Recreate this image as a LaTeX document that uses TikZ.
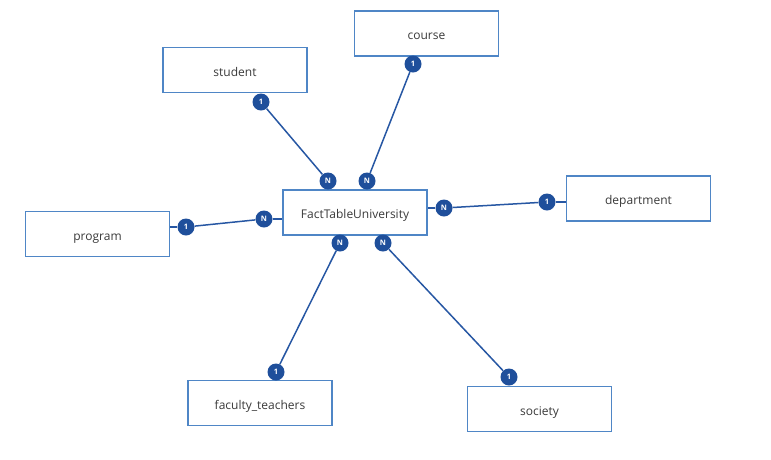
\documentclass[tikz,border=0pt]{standalone}
\usepackage{fontspec}
\setmainfont{Open Sans}
\definecolor{boxblue}{HTML}{4F86C6}
\definecolor{linkblue}{HTML}{2757A3}
\definecolor{badgeblue}{HTML}{1F4F9B}
\definecolor{txt}{HTML}{3A3A3A}
\tikzset{
  ent/.style={draw=boxblue, line width=1.5pt, fill=white, minimum width=144pt, minimum height=45pt, inner sep=0pt, text=txt, text height=12pt, text depth=0pt, font=\fontsize{12}{14}\selectfont},
  badge/.style={circle, fill=badgeblue, draw=none, minimum size=17pt, inner sep=0pt, text=white, font=\fontsize{7.5}{8}\selectfont\bfseries},
  link/.style={draw=linkblue, line width=1.5pt}
}
\begin{document}
\begin{tikzpicture}[x=1pt,y=-1pt]
\useasboundingbox (0,0) rectangle (771,459);
% entities
\node[ent] (fact) at (355,212.5) {FactTableUniversity};
\node[ent] (student) at (235,70) {student};
\node[ent] (course) at (426.5,33.5) {course};
\node[ent] (program) at (97.5,234) {program};
\node[ent] (department) at (638.5,198.5) {department};
\node[ent] (faculty) at (260,403) {faculty\_teachers};
\node[ent] (society) at (539.5,409) {society};
% badges
\node[badge] (bS1) at (261,102) {1};
\node[badge] (bSN) at (328,181) {N};
\node[badge] (bC1) at (413,64) {1};
\node[badge] (bCN) at (367,181) {N};
\node[badge] (bP1) at (186,227) {1};
\node[badge] (bPN) at (264,219) {N};
\node[badge] (bD1) at (547,202) {1};
\node[badge] (bDN) at (444,208) {N};
\node[badge] (bF1) at (276,372) {1};
\node[badge] (bFN) at (340,243) {N};
\node[badge] (bY1) at (509,377) {1};
\node[badge] (bYN) at (383,243) {N};
% connectors
\draw[link] (bS1) -- (bSN);
\draw[link] (bC1) -- (bCN);
\draw[link] (bP1) -- (bPN);
\draw[link] (bD1) -- (bDN);
\draw[link] (bF1) -- (bFN);
\draw[link] (bY1) -- (bYN);
% stubs to boxes
\draw[link] (bP1.west) -- (program.east |- bP1.west);
\draw[link] (bPN.east) -- (fact.west |- bPN.east);
\draw[link] (bD1.east) -- (department.west |- bD1.east);
\draw[link] (bDN.west) -- (fact.east |- bDN.west);
\end{tikzpicture}
\end{document}
